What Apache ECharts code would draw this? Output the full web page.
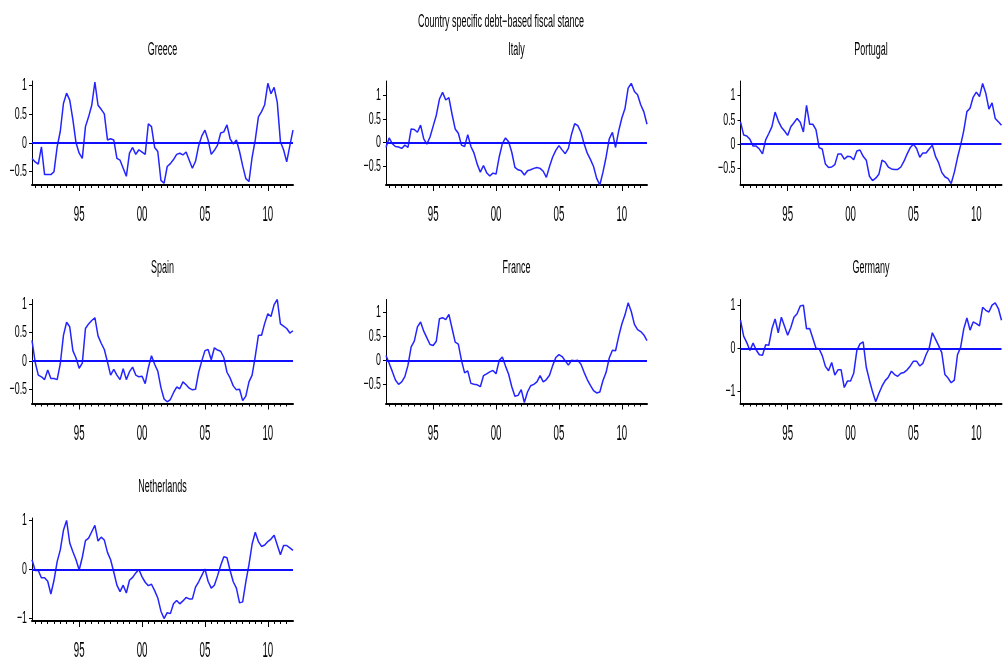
<!DOCTYPE html>
<html>
<head>
<meta charset="utf-8">
<script src="https://cdn.jsdelivr.net/npm/echarts@6/dist/echarts.min.js"></script>
<style>
html,body{margin:0;padding:0;background:#fff;}
#chart{width:1005px;height:664px;}
</style>
</head>
<body>
<div id="chart"></div>
<script>
const mainTitle = 'Country specific debt\u2212based fiscal stance';
const countries = ['Greece','Italy','Portugal','Spain','France','Germany','Netherlands'];
const startYear = 1991.25;
const stepYear = 0.25;
const endYear = 2012.0;

const greece = [
-0.27,-0.33,-0.37,-0.07,-0.55,-0.55,-0.55,-0.50,-0.07,0.20,
0.68,0.86,0.74,0.40,0.0,-0.18,-0.27,0.28,0.45,0.65,
1.05,0.65,0.58,0.50,0.05,0.07,0.05,-0.27,-0.30,-0.44,
-0.58,-0.18,-0.08,-0.20,-0.12,-0.16,-0.20,0.33,0.28,-0.08,
-0.15,-0.65,-0.70,-0.41,-0.36,-0.29,-0.20,-0.18,-0.21,-0.16,
-0.30,-0.44,-0.32,-0.05,0.12,0.22,0.05,-0.20,-0.13,-0.04,
0.17,0.19,0.31,0.07,-0.02,0.05,-0.15,-0.40,-0.62,-0.67,
-0.25,0.05,0.45,0.54,0.66,1.03,0.85,0.96,0.70,0.02,
-0.12,-0.33,-0.05,0.22];
const italy = [
-0.10,0.10,-0.02,-0.08,-0.09,-0.12,-0.05,-0.10,0.29,0.28,
0.22,0.37,0.08,-0.03,0.12,0.35,0.58,0.92,1.06,0.90,
0.95,0.60,0.29,0.20,-0.05,-0.08,0.17,-0.08,-0.22,-0.45,
-0.62,-0.48,-0.63,-0.70,-0.64,-0.66,-0.30,-0.02,0.10,0.02,
-0.20,-0.52,-0.57,-0.59,-0.68,-0.59,-0.57,-0.54,-0.52,-0.54,
-0.60,-0.73,-0.50,-0.30,-0.16,-0.06,-0.15,-0.23,-0.12,0.18,
0.40,0.36,0.22,-0.02,-0.22,-0.35,-0.50,-0.75,-0.89,-0.62,
-0.30,0.08,0.22,-0.10,0.25,0.52,0.72,1.15,1.25,1.08,
1.01,0.80,0.65,0.39];
const portugal = [
0.46,0.19,0.17,0.10,-0.04,-0.04,-0.10,-0.20,0.09,0.22,
0.36,0.66,0.48,0.35,0.27,0.18,0.36,0.44,0.53,0.45,
0.25,0.80,0.41,0.41,0.30,-0.07,-0.10,-0.41,-0.48,-0.47,
-0.42,-0.20,-0.20,-0.31,-0.25,-0.26,-0.32,-0.14,-0.12,-0.25,
-0.33,-0.66,-0.75,-0.70,-0.62,-0.33,-0.37,-0.47,-0.51,-0.52,
-0.52,-0.47,-0.35,-0.20,-0.07,0.0,-0.09,-0.27,-0.18,-0.18,
-0.10,-0.02,-0.25,-0.38,-0.58,-0.67,-0.71,-0.81,-0.58,-0.28,
-0.02,0.28,0.67,0.74,0.97,1.07,0.98,1.25,1.05,0.72,
0.85,0.53,0.46,0.39];
const spain = [
0.36,-0.02,-0.25,-0.28,-0.33,-0.16,-0.31,-0.31,-0.33,-0.05,
0.45,0.68,0.60,0.18,0.05,-0.13,-0.04,0.57,0.65,0.71,
0.76,0.44,0.31,0.20,-0.02,-0.25,-0.15,-0.25,-0.33,-0.14,
-0.33,-0.19,-0.11,-0.25,-0.28,-0.27,-0.40,-0.12,0.09,-0.06,
-0.18,-0.47,-0.67,-0.72,-0.68,-0.56,-0.46,-0.49,-0.37,-0.42,
-0.48,-0.51,-0.50,-0.20,0.0,0.18,0.20,0.02,0.23,0.19,
0.17,0.06,-0.20,-0.30,-0.44,-0.51,-0.50,-0.70,-0.62,-0.37,
-0.25,0.08,0.45,0.45,0.66,0.83,0.78,0.99,1.08,0.65,
0.61,0.57,0.49,0.53];
const france = [
0.10,-0.06,-0.23,-0.41,-0.50,-0.45,-0.34,-0.10,0.28,0.40,
0.70,0.80,0.61,0.47,0.33,0.31,0.40,0.87,0.89,0.85,
0.96,0.67,0.38,0.34,0.0,-0.26,-0.22,-0.48,-0.50,-0.51,
-0.55,-0.32,-0.28,-0.24,-0.21,-0.28,0.0,0.07,-0.12,-0.29,
-0.55,-0.75,-0.73,-0.61,-0.88,-0.66,-0.53,-0.50,-0.45,-0.32,
-0.45,-0.40,-0.31,-0.11,0.06,0.12,0.08,-0.01,-0.10,0.0,
-0.01,0.0,-0.08,-0.25,-0.40,-0.52,-0.63,-0.68,-0.66,-0.42,
-0.25,0.05,0.21,0.20,0.50,0.76,0.95,1.20,1.02,0.75,
0.64,0.60,0.53,0.41];
const germany = [
0.65,0.28,0.13,-0.05,0.12,-0.04,-0.15,-0.16,0.08,0.07,
0.45,0.68,0.36,0.72,0.51,0.30,0.48,0.72,0.80,0.98,
1.00,0.45,0.46,0.23,0.0,-0.01,-0.17,-0.42,-0.52,-0.33,
-0.62,-0.50,-0.50,-0.91,-0.76,-0.76,-0.58,-0.05,0.10,0.15,
-0.44,-0.74,-1.01,-1.24,-1.05,-0.88,-0.75,-0.67,-0.53,-0.61,
-0.65,-0.58,-0.56,-0.50,-0.41,-0.30,-0.30,-0.41,-0.35,-0.15,
0.0,0.36,0.21,0.06,-0.10,-0.61,-0.69,-0.80,-0.74,-0.15,
0.02,0.45,0.70,0.42,0.61,0.57,0.52,0.95,0.88,0.84,
1.00,1.05,0.92,0.65];
const netherlands = [
0.20,-0.02,-0.02,-0.17,-0.17,-0.24,-0.50,-0.22,0.16,0.40,
0.80,1.00,0.54,0.36,0.20,-0.01,0.25,0.59,0.64,0.77,
0.90,0.58,0.66,0.60,0.35,0.20,-0.05,-0.32,-0.45,-0.32,
-0.48,-0.22,-0.16,-0.07,0.0,-0.15,-0.26,-0.33,-0.30,-0.43,
-0.58,-0.85,-1.0,-0.88,-0.90,-0.70,-0.63,-0.70,-0.64,-0.57,
-0.60,-0.60,-0.36,-0.25,-0.12,0.01,-0.24,-0.38,-0.32,-0.13,
0.08,0.26,0.24,-0.02,-0.25,-0.38,-0.68,-0.66,-0.25,0.10,
0.52,0.76,0.57,0.47,0.50,0.57,0.62,0.70,0.50,0.30,
0.49,0.49,0.44,0.39];

const seriesValues = [greece, italy, portugal, spain, france, germany, netherlands];
const yMins = [-0.73, -0.89, -0.84, -0.75, -0.90, -1.28, -1.05];
const yMaxs = [1.07, 1.30, 1.30, 1.08, 1.27, 1.13, 1.05];
const yTicksHalf = [-0.5, 0, 0.5, 1];
const yTicksHalfLabels = ['\u22120.5', '0', '0.5', '1'];
const yTicksUnit = [-1, 0, 1];
const yTicksUnitLabels = ['\u22121', '0', '1'];
const yTickSet = ['half','half','half','half','half','unit','unit'];
const xTickYears = [1995, 2000, 2005, 2010];
const xTickLabels = ['95', '00', '05', '10'];

// layout
const colLeft = [32, 386, 740.5];
const rowTop = [81, 299.5, 518];
const gridW = 261;
const rowH = [104, 104, 103];
const FONT = "'Liberation Sans', Arial, Helvetica, sans-serif";

const minorTicks = [];
for (let y = 1991.5; y < endYear; y += 0.5) minorTicks.push(y);

const grids = [], xAxes = [], yAxes = [], series = [];
countries.forEach((name, k) => {
  const r = Math.floor(k / 3), c = k % 3;
  grids.push({left: colLeft[c], top: rowTop[r], width: gridW, height: rowH[r], containLabel: false});
  const isHalf = yTickSet[k] === 'half';
  xAxes.push({
    type: 'value', gridIndex: k, min: startYear, max: endYear, position: 'bottom',
    axisLine: {show: true, onZero: false, lineStyle: {color: '#000', width: 2}},
    axisTick: {show: true, customValues: minorTicks, length: 3, lineStyle: {color: '#000', width: 1}},
    axisLabel: {show: false}, splitLine: {show: false}
  });
  xAxes.push({
    type: 'value', gridIndex: k, min: startYear, max: endYear, position: 'bottom',
    axisLine: {show: false, onZero: false},
    axisTick: {show: true, customValues: xTickYears, length: 6, lineStyle: {color: '#000', width: 1}},
    axisLabel: {show: false}, splitLine: {show: false}
  });
  yAxes.push({
    type: 'value', gridIndex: k, min: yMins[k], max: yMaxs[k],
    axisLine: {show: true, onZero: false, lineStyle: {color: '#000', width: 1}},
    axisTick: {show: true, customValues: isHalf ? yTicksHalf : yTicksUnit, length: 3, lineStyle: {color: '#000'}},
    axisLabel: {show: false}, splitLine: {show: false}
  });
  series.push({
    type: 'line', name: name, xAxisIndex: 2 * k, yAxisIndex: k,
    data: seriesValues[k].map((v, i) => [startYear + i * stepYear, v]),
    showSymbol: false, symbol: 'none', z: 3,
    lineStyle: {color: '#2424ff', width: 1.5},
    markLine: {
      silent: true, symbol: 'none', animation: false,
      label: {show: false},
      lineStyle: {color: '#1010ff', width: 1.8, type: 'solid'},
      data: [{yAxis: 0}]
    }
  });
});

const chart = echarts.init(document.getElementById('chart'), null, {renderer: 'canvas'});
chart.setOption({
  animation: false,
  backgroundColor: '#fff',
  grid: grids, xAxis: xAxes, yAxis: yAxes, series: series
});

const texts = [];
function addText(txt, x, y, size, sx, align) {
  texts.push({
    type: 'text', x: x, y: y, scaleX: sx, scaleY: 1, silent: true, z: 10,
    style: {text: txt, fontSize: size, fontFamily: FONT, fill: '#000', align: align, verticalAlign: 'middle'}
  });
}
addText(mainTitle, 501, 22, 18, 0.5, 'center');
countries.forEach((name, k) => {
  const r = Math.floor(k / 3), c = k % 3;
  const gl = colLeft[c], gt = rowTop[r], gb = rowTop[r] + rowH[r];
  addText(name, gl + gridW / 2, gt - 31, 18, 0.5, 'center');
  const isHalf = yTickSet[k] === 'half';
  const vals = isHalf ? yTicksHalf : yTicksUnit;
  const labs = isHalf ? yTicksHalfLabels : yTicksUnitLabels;
  vals.forEach((v, j) => {
    const py = chart.convertToPixel({yAxisIndex: k}, v);
    addText(labs[j], gl - 5, py, 17, 0.52, 'right');
  });
  xTickYears.forEach((yr, j) => {
    const px = chart.convertToPixel({xAxisIndex: 2 * k}, yr);
    addText(xTickLabels[j], px, gb + 30, 22, 0.44, 'center');
  });
});
chart.setOption({graphic: {elements: texts}});
</script>
</body>
</html>
